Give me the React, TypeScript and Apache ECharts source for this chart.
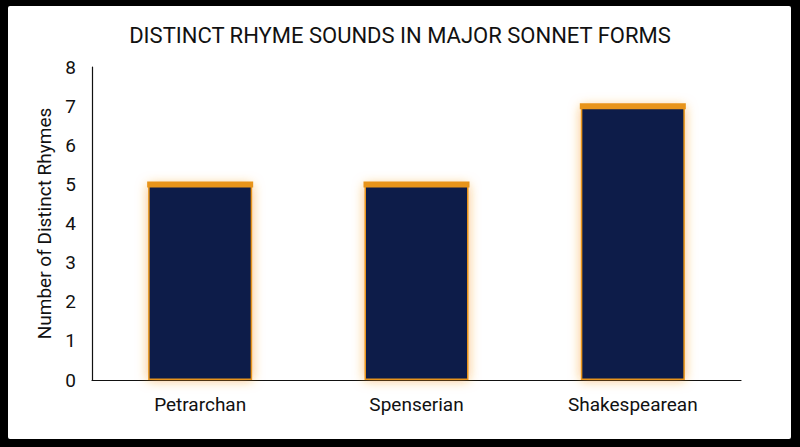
import React, { useEffect, useRef } from "react";
import * as echarts from "echarts";

const categories = ["Petrarchan", "Spenserian", "Shakespearean"];
const rhymeCounts = [5, 5, 7];
const yTicks = [0, 1, 2, 3, 4, 5, 6, 7, 8];

const BAR_W = 104;

export default function App() {
  const ref = useRef<HTMLDivElement>(null);
  useEffect(() => {
    const chart = echarts.init(ref.current!, null, { renderer: "svg" });
    chart.setOption({
      animation: false,
      backgroundColor: "#000000",
      graphic: [
        {
          type: "rect",
          z: -10,
          silent: true,
          shape: { x: 8, y: 6, width: 783, height: 433, r: 2 },
          style: { fill: "#ffffff" },
        },
      ],
      title: {
        text: "DISTINCT RHYME SOUNDS IN MAJOR SONNET FORMS",
        left: "center",
        top: 19,
        textStyle: {
          fontFamily: "Roboto",
          fontSize: 22,
          fontWeight: "normal",
          color: "#111111",
        },
      },
      grid: { left: 92, right: 59, top: 67, bottom: 67 },
      xAxis: {
        type: "category",
        data: categories,
        axisLine: { show: true, lineStyle: { color: "#111111", width: 1.2 } },
        axisTick: { show: false },
        axisLabel: {
          margin: 15,
          fontFamily: "Roboto",
          fontSize: 19,
          color: "#111111",
        },
      },
      yAxis: {
        type: "value",
        min: yTicks[0],
        max: yTicks[yTicks.length - 1],
        interval: 1,
        name: "Number of Distinct Rhymes",
        nameLocation: "middle",
        nameGap: 34,
        nameTextStyle: {
          fontFamily: "Roboto",
          fontSize: 19,
          color: "#111111",
        },
        axisLine: { show: true, lineStyle: { color: "#111111", width: 1.2 } },
        axisTick: { show: false },
        splitLine: { show: false },
        axisLabel: {
          margin: 16,
          fontFamily: "Roboto",
          fontSize: 19,
          color: "#111111",
        },
      },
      series: [
        {
          type: "bar",
          data: rhymeCounts,
          barWidth: BAR_W,
          itemStyle: {
            color: "#0b1d48",
            borderColor: "#e8941a",
            borderWidth: 1.5,
            shadowBlur: 12,
            shadowColor: "rgba(245,150,30,0.6)",
          },
        },
        {
          type: "custom",
          data: rhymeCounts.map((v, i) => [i, v]),
          z: 5,
          renderItem: (params: any, api: any) => {
            const p = api.coord([api.value(0), api.value(1)]);
            return {
              type: "rect",
              shape: { x: p[0] - BAR_W / 2 - 1, y: p[1] - 3, width: BAR_W + 2, height: 6 },
              style: { fill: "#e8941a" },
            };
          },
        },
      ],
    });
    return () => chart.dispose();
  }, []);
  return (
    <div
      ref={ref}
      style={{ position: "fixed", left: 0, top: 0, width: 800, height: 447 }}
    />
  );
}
